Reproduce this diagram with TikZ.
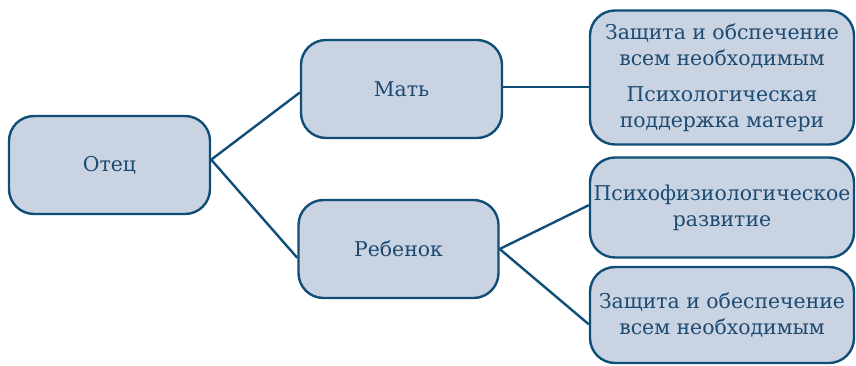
\documentclass[tikz,border=0pt]{standalone}
\usepackage{fontspec}
\setmainfont{DejaVu Serif}
\definecolor{boxfill}{HTML}{C9D3E2}
\definecolor{boxline}{HTML}{104E78}
\definecolor{boxtext}{HTML}{1B4A72}
\begin{document}
\begin{tikzpicture}[x=1pt,y=1pt,
    every node/.style={font=\fontsize{20.4}{26}\selectfont,text=boxtext},
    box/.style={draw=boxline,fill=boxfill,line width=2.4pt,rounded corners=25pt,align=center,inner sep=0pt},
    link/.style={draw=boxline,line width=2.4pt}]
    \useasboundingbox (0,0) rectangle (856,365);

    % Left and middle boxes
    \node[box,minimum width=201,minimum height=98] (father) at (109.5,200) {Отец};
    \node[box,minimum width=201,minimum height=98] (mother) at (401.5,276) {Мать};
    \node[box,minimum width=200,minimum height=98] (child) at (398.5,116) {Ребенок};

    % Right boxes
    \node[box,minimum width=264,minimum height=134] (care) at (722,287.5)
        {Защита и обспечение\\ всем необходимым\\[10pt] Психологическая\\ поддержка матери};
    \node[box,minimum width=264,minimum height=100] (growth) at (722,157.5)
        {Психофизиологическое\\ развитие};
    \node[box,minimum width=264,minimum height=96] (guard) at (722,50)
        {Защита и обеспечение\\ всем необходимым};

    % Connectors
    \draw[link] (father.3) -- (mother.182);
    \draw[link] (father.3) -- (child.185);
    \draw[link] (mother.1) -- (mother.1 -| care.west);
    \draw[link] (child.east) -- (growth.179);
    \draw[link] (child.east) -- (guard.184);

\end{tikzpicture}
\end{document}
